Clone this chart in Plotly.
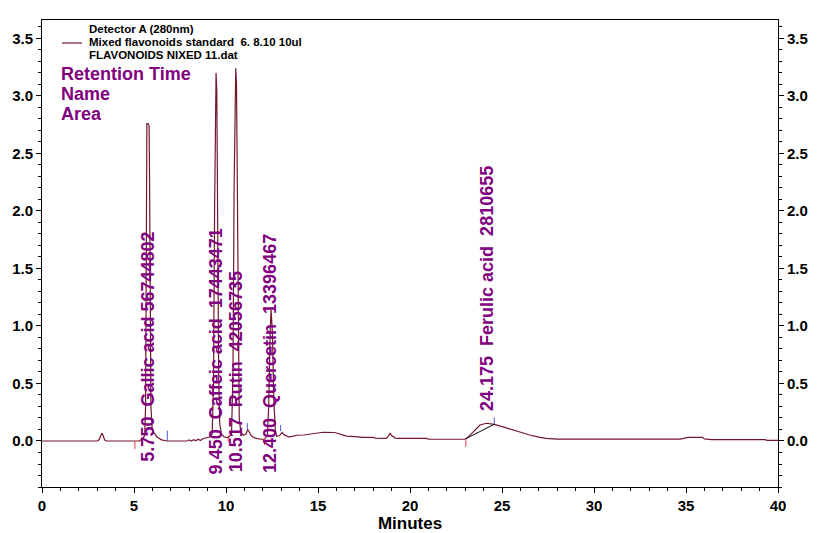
import plotly.graph_objects as go

# ---- chromatogram trace (time in minutes, absorbance) ----
times = [0.0, 3.00, 3.10, 3.18, 3.25, 3.32, 3.40, 3.50, 5.30, 5.45, 5.58, 5.63, 5.66, 5.68, 5.70,
         5.76, 5.82, 5.85, 5.88, 5.92, 5.98, 6.05, 6.25, 6.50, 6.80, 7.90, 8.00, 8.10, 8.25, 8.35,
         8.50, 8.60, 8.75, 8.90, 9.10, 9.25, 9.32, 9.38, 9.43, 9.46, 9.50, 9.55, 9.60, 9.66, 9.75,
         9.90, 10.12, 10.30, 10.38, 10.44, 10.50, 10.53, 10.57, 10.62, 10.67, 10.72, 10.80, 10.94,
         11.08, 11.18, 11.26, 11.35, 11.48, 11.70, 11.94, 12.09, 12.25, 12.32, 12.40, 12.45, 12.52,
         12.60, 12.68, 12.75, 12.90, 13.05, 13.15, 13.40, 13.60, 13.85, 14.20, 14.60, 14.80, 15.30,
         15.90, 16.20, 16.56, 17.00, 17.46, 18.00, 18.10, 18.70, 18.82, 18.92, 19.02, 19.20, 19.40,
         20.90, 21.00, 22.95, 23.03, 23.20, 23.45, 23.80, 24.16, 24.58, 25.10, 25.60, 26.00, 26.50,
         27.00, 27.40, 28.00, 34.70, 35.10, 35.90, 36.00, 36.40, 39.30, 39.40, 40.00]
absorb = [0.0, 0.0, 0.01, 0.05, 0.068, 0.05, 0.01, 0.0, 0.0, 0.02, 0.045, 0.3, 1.6, 2.72, 2.76,
          2.76, 2.74, 2.2, 1.0, 0.3, 0.12, 0.08, 0.035, 0.01, 0.0, 0.0, 0.01, 0.0, 0.012, 0.002,
          0.015, 0.005, 0.02, 0.025, 0.035, 0.06, 0.5, 2.0, 3.10, 3.20, 3.05, 1.8, 0.6, 0.15, 0.06,
          0.035, 0.03, 0.06, 0.6, 2.2, 3.20, 3.24, 3.10, 2.0, 0.7, 0.2, 0.08, 0.05,
          0.06, 0.10, 0.08, 0.05, 0.032, 0.02, 0.015, 0.015, 0.05, 0.3, 0.95, 1.14, 0.95,
          0.35, 0.10, 0.04, 0.045, 0.075, 0.055, 0.035, 0.04, 0.05, 0.052, 0.06, 0.068, 0.076,
          0.074, 0.06, 0.043, 0.038, 0.032, 0.032, 0.025, 0.023, 0.04, 0.067, 0.045, 0.025, 0.023,
          0.023, 0.015, 0.015, 0.02, 0.04, 0.08, 0.139, 0.154, 0.145, 0.12, 0.095, 0.075, 0.052,
          0.033, 0.023, 0.017, 0.017, 0.032, 0.032, 0.018, 0.011, 0.011, 0.006, 0.006]

# ---- integration markers ----
start_t = [5.05, 10.12, 12.09, 23.03]
start_top = [0.0, 0.03, 0.015, 0.02]
start_bottom = [-0.07, -0.01, -0.035, -0.05]
end_t = [6.81, 11.16, 12.97, 24.58]
end_bottom = [0.0, 0.10, 0.085, 0.145]
end_top = [0.09, 0.155, 0.14, 0.205]

# ferulic acid drawn baseline
base_t = [23.03, 24.58]
base_v = [0.02, 0.145]

# ---- peak annotations ----
peak_rt = [5.750, 9.450, 10.517, 12.400, 24.175]
peak_names = ["Gallic acid", "Caffeic acid", "Rutin", "Quercetin", "Ferulic acid"]
peak_areas = ["56744802", "17443471", "42056735", "13396467", "2810655"]
peak_sep = ["\u00a0", "\u00a0\u00a0", "\u00a0\u00a0", "\u00a0\u00a0", "\u00a0\u00a0"]
label_base = [-0.19, -0.30, -0.28, -0.29, 0.255]

y_ticks = [0.0, 0.5, 1.0, 1.5, 2.0, 2.5, 3.0, 3.5]
x_ticks = [0, 5, 10, 15, 20, 25, 30, 35, 40]

legend_lines = ["Detector A (280nm)",
                "Mixed flavonoids standard\u00a0\u00a06. 8.10 10ul",
                "FLAVONOIDS NIXED 11.dat"]
header_lines = ["Retention Time", "Name", "Area"]

TRACE = "#74162a"
PURPLE = "#800080"
FONT = "Liberation Sans, Arial, sans-serif"
W, H = 820, 533
L, R, T, B = 42, 42, 20, 46
YR = [-0.40, 3.66]

fig = go.Figure()
fig.add_trace(go.Scatter(x=times, y=absorb, mode="lines",
                         line=dict(color=TRACE, width=1.2), hoverinfo="skip"))

# start markers (red), end markers (blue)
sx, sy = [], []
for t, a, b in zip(start_t, start_top, start_bottom):
    sx += [t, t, None]
    sy += [a, b, None]
fig.add_trace(go.Scatter(x=sx, y=sy, mode="lines", line=dict(color="#e04040", width=1),
                         hoverinfo="skip"))
ex, ey = [], []
for t, a, b in zip(end_t, end_bottom, end_top):
    ex += [t, t, None]
    ey += [a, b, None]
fig.add_trace(go.Scatter(x=ex, y=ey, mode="lines", line=dict(color="#5555dd", width=1),
                         hoverinfo="skip"))
fig.add_trace(go.Scatter(x=base_t, y=base_v, mode="lines", line=dict(color="black", width=1),
                         hoverinfo="skip", yaxis="y2"))

annotations = []
for rt, nm, ar, sep, yb in zip(peak_rt, peak_names, peak_areas, peak_sep, label_base):
    txt = f"{rt:.3f}\u00a0\u00a0{nm}{sep}{ar}"
    annotations.append(dict(x=rt, y=yb, xref="x", yref="y", text=txt, textangle=-90,
                            showarrow=False, xanchor="center", yanchor="bottom",
                            font=dict(family=FONT, size=18, color=PURPLE, weight="bold"),
                            borderpad=0))

pw = W - L - R
ph = H - T - B
def px(x):
    return (x - L) / pw
def py(y):
    return (H - B - y) / ph

for i, s in enumerate(legend_lines):
    annotations.append(dict(x=px(88), y=py(29 + 13 * i), xref="paper", yref="paper", text=s,
                            showarrow=False, xanchor="left", yanchor="middle", borderpad=0,
                            font=dict(family=FONT, size=11.5, color="black", weight="bold")))
for i, s in enumerate(header_lines):
    annotations.append(dict(x=px(60), y=py(74 + 20 * i), xref="paper", yref="paper", text=s,
                            showarrow=False, xanchor="left", yanchor="middle", borderpad=0,
                            font=dict(family=FONT, size=18, color=PURPLE, weight="bold")))

shapes = [dict(type="line", xref="paper", yref="paper", x0=px(62), x1=px(82),
               y0=py(43), y1=py(43), line=dict(color=TRACE, width=1.2))]

axis_font = dict(family=FONT, size=15, color="black", weight="bold")
yax = dict(range=YR, tickvals=y_ticks, ticktext=[f"{v:.1f}" for v in y_ticks],
           ticks="outside", ticklen=5, tickwidth=1, tickcolor="black", automargin=False,
           showline=True, linecolor="black", linewidth=1, showgrid=False, zeroline=False,
           tickfont=axis_font,
           minor=dict(dtick=0.1, tick0=0, ticks="outside", ticklen=3, tickcolor="black",
                      showgrid=False))

fig.update_layout(
    width=W, height=H, margin=dict(l=L, r=R, t=T, b=B),
    paper_bgcolor="white", plot_bgcolor="white", showlegend=False,
    font=dict(family=FONT),
    xaxis=dict(range=[0, 40], tickvals=x_ticks, ticks="outside", ticklen=5, tickwidth=1,
               tickcolor="black", showline=True, linecolor="black", linewidth=1,
               mirror=True, showgrid=False, zeroline=False, tickfont=axis_font,
               automargin=False,
               minor=dict(dtick=1, tick0=0, ticks="outside", ticklen=3, tickcolor="black",
                          showgrid=False),
               title=dict(text="Minutes", font=dict(family=FONT, size=17, color="black",
                                                    weight="bold"), standoff=6)),
    yaxis=dict(**yax, side="left"),
    yaxis2=dict(**yax, side="right", overlaying="y"),
    annotations=annotations, shapes=shapes,
)

fig.write_html("out.html", config={"displayModeBar": False},
               post_script="document.body.style.margin='0px';document.body.style.overflow='hidden';")
